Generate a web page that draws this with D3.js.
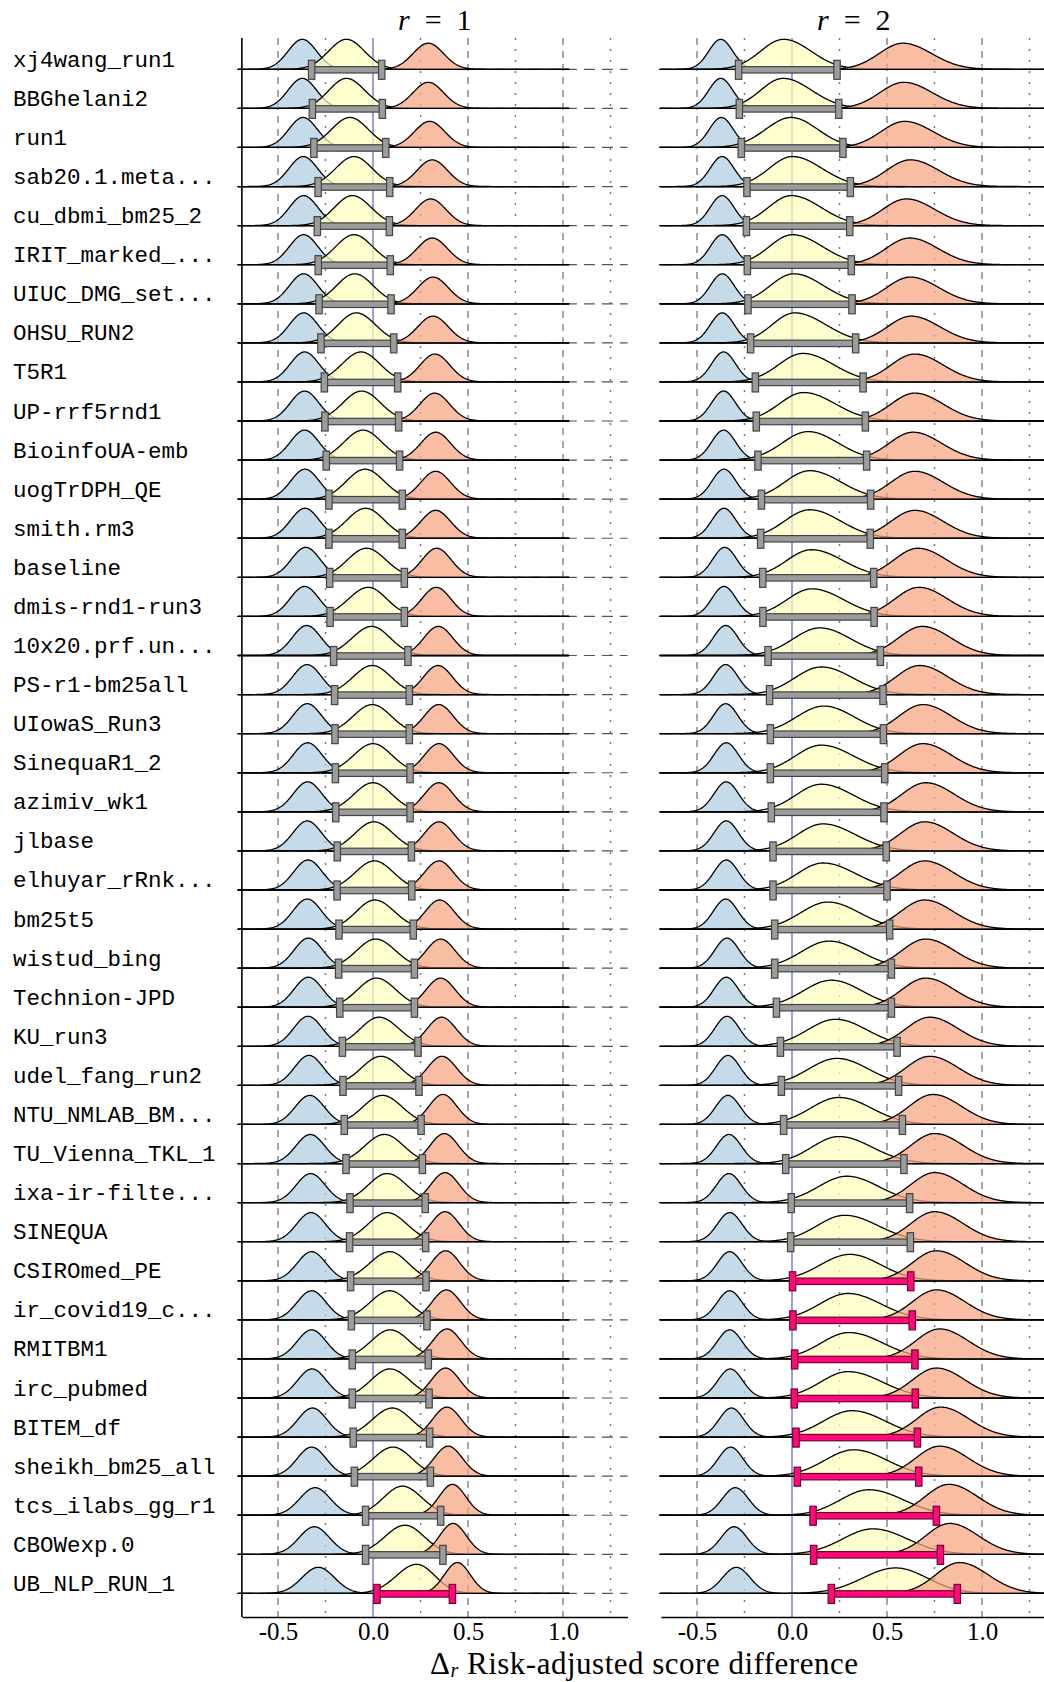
<!DOCTYPE html>
<html>
<head>
<meta charset="utf-8">
<script src="https://cdn.jsdelivr.net/npm/d3@7"></script>
<style>
  html, body { margin: 0; padding: 0; background: #fff; }
  svg { display: block; }
</style>
</head>
<body>
<script>
// ---- run names, top to bottom ----
const runs = [
  "xj4wang_run1", "BBGhelani2", "run1", "sab20.1.meta...", "cu_dbmi_bm25_2",
  "IRIT_marked_...", "UIUC_DMG_set...", "OHSU_RUN2", "T5R1", "UP-rrf5rnd1",
  "BioinfoUA-emb", "uogTrDPH_QE", "smith.rm3", "baseline", "dmis-rnd1-run3",
  "10x20.prf.un...", "PS-r1-bm25all", "UIowaS_Run3", "SinequaR1_2", "azimiv_wk1",
  "jlbase", "elhuyar_rRnk...", "bm25t5", "wistud_bing", "Technion-JPD",
  "KU_run3", "udel_fang_run2", "NTU_NMLAB_BM...", "TU_Vienna_TKL_1", "ixa-ir-filte...",
  "SINEQUA", "CSIROmed_PE", "ir_covid19_c...", "RMITBM1", "irc_pubmed",
  "BITEM_df", "sheikh_bm25_all", "tcs_ilabs_gg_r1", "CBOWexp.0", "UB_NLP_RUN_1"
];

// ---- r = 1 ----
const r1LowMode = [-0.372, -0.372, -0.368, -0.367, -0.365, -0.365, -0.365, -0.365, -0.360, -0.360,
  -0.360, -0.358, -0.358, -0.354, -0.360, -0.349, -0.347, -0.346, -0.344, -0.344,
  -0.346, -0.342, -0.346, -0.340, -0.340, -0.342, -0.337, -0.333, -0.330, -0.328,
  -0.326, -0.323, -0.323, -0.323, -0.321, -0.319, -0.323, -0.305, -0.309, -0.288];
const r1LowSd = [0.075, 0.075, 0.075, 0.075, 0.075, 0.075, 0.075, 0.075, 0.075, 0.075,
  0.075, 0.075, 0.075, 0.075, 0.075, 0.075, 0.075, 0.075, 0.075, 0.075,
  0.075, 0.075, 0.075, 0.075, 0.075, 0.075, 0.075, 0.076, 0.076, 0.076,
  0.076, 0.076, 0.076, 0.076, 0.076, 0.076, 0.076, 0.080, 0.080, 0.085];
const r1LowPeak = [1.00, 1.00, 1.00, 1.00, 1.00, 1.00, 1.00, 1.00, 1.00, 1.00,
  1.00, 1.00, 1.00, 1.00, 1.00, 1.00, 1.00, 1.00, 1.00, 1.00,
  1.00, 1.00, 1.00, 1.00, 1.00, 1.00, 1.00, 0.97, 0.97, 0.97,
  0.97, 0.97, 0.97, 0.97, 0.97, 0.97, 0.97, 0.92, 0.92, 0.87];

const r1DeltaMode = [-0.140, -0.140, -0.121, -0.100, -0.109, -0.100, -0.096, -0.088, -0.063, -0.060,
  -0.053, -0.042, -0.039, -0.035, -0.025, -0.007, -0.004, -0.004, 0.000, 0.000,
  0.004, 0.007, 0.009, 0.014, 0.018, 0.032, 0.042, 0.049, 0.060, 0.075,
  0.075, 0.088, 0.088, 0.091, 0.089, 0.102, 0.105, 0.154, 0.168, 0.230];
const r1DeltaLo = [-0.323, -0.319, -0.311, -0.289, -0.293, -0.288, -0.284, -0.274, -0.256, -0.253,
  -0.246, -0.232, -0.232, -0.228, -0.226, -0.207, -0.202, -0.200, -0.198, -0.196,
  -0.188, -0.189, -0.179, -0.181, -0.175, -0.161, -0.158, -0.151, -0.142, -0.121,
  -0.123, -0.118, -0.114, -0.109, -0.109, -0.104, -0.098, -0.039, -0.039, 0.021];
const r1DeltaHi = [0.046, 0.049, 0.067, 0.088, 0.086, 0.091, 0.095, 0.109, 0.130, 0.135,
  0.140, 0.154, 0.154, 0.165, 0.165, 0.184, 0.191, 0.191, 0.195, 0.195,
  0.202, 0.204, 0.212, 0.218, 0.218, 0.237, 0.242, 0.253, 0.260, 0.275,
  0.277, 0.279, 0.284, 0.291, 0.295, 0.298, 0.302, 0.356, 0.368, 0.418];
const r1DeltaPeak = [1.00, 1.00, 1.00, 1.00, 1.00, 1.00, 1.00, 1.00, 1.00, 1.00,
  1.00, 1.00, 1.00, 0.97, 0.97, 0.97, 0.97, 0.97, 0.97, 0.97,
  0.97, 0.97, 0.97, 0.97, 0.97, 0.97, 0.97, 0.97, 0.97, 0.97,
  0.97, 0.97, 0.97, 0.97, 0.97, 0.97, 0.97, 0.97, 0.97, 0.97];

const r1HighMode = [0.291, 0.291, 0.298, 0.312, 0.304, 0.312, 0.316, 0.316, 0.326, 0.325,
  0.330, 0.330, 0.330, 0.335, 0.333, 0.344, 0.342, 0.346, 0.347, 0.347,
  0.347, 0.347, 0.351, 0.356, 0.356, 0.361, 0.363, 0.368, 0.375, 0.379,
  0.379, 0.382, 0.386, 0.389, 0.382, 0.389, 0.396, 0.418, 0.421, 0.444];
const r1HighSd = [0.080, 0.080, 0.080, 0.080, 0.080, 0.080, 0.080, 0.080, 0.078, 0.078,
  0.078, 0.078, 0.078, 0.076, 0.076, 0.076, 0.076, 0.076, 0.076, 0.076,
  0.076, 0.076, 0.076, 0.076, 0.076, 0.076, 0.076, 0.074, 0.074, 0.074,
  0.074, 0.074, 0.074, 0.074, 0.074, 0.074, 0.074, 0.070, 0.070, 0.068];
const r1HighPeak = [0.87, 0.87, 0.87, 0.89, 0.89, 0.89, 0.89, 0.89, 0.93, 0.93,
  0.93, 0.93, 0.93, 0.97, 0.97, 0.97, 0.97, 0.97, 0.97, 0.97,
  0.97, 0.97, 0.97, 0.97, 0.97, 0.97, 0.97, 1.00, 1.00, 1.00,
  1.00, 1.00, 1.00, 1.00, 1.00, 1.00, 1.00, 1.03, 1.03, 1.03];

// ---- r = 2 ----
const r2LowMode = [-0.375, -0.375, -0.372, -0.368, -0.368, -0.367, -0.367, -0.367, -0.360, -0.360,
  -0.360, -0.358, -0.358, -0.354, -0.358, -0.349, -0.349, -0.349, -0.346, -0.346,
  -0.346, -0.346, -0.349, -0.342, -0.346, -0.342, -0.337, -0.337, -0.332, -0.332,
  -0.328, -0.328, -0.328, -0.328, -0.325, -0.319, -0.323, -0.298, -0.305, -0.293];
const r2LowSd = [0.063, 0.063, 0.063, 0.063, 0.063, 0.063, 0.063, 0.063, 0.063, 0.063,
  0.063, 0.063, 0.063, 0.063, 0.063, 0.064, 0.064, 0.064, 0.064, 0.064,
  0.064, 0.064, 0.064, 0.064, 0.064, 0.064, 0.064, 0.065, 0.065, 0.065,
  0.065, 0.065, 0.065, 0.065, 0.065, 0.065, 0.065, 0.068, 0.068, 0.072];
const r2LowPeak = [1.00, 1.00, 1.00, 1.00, 1.00, 1.00, 1.00, 1.00, 1.00, 1.00,
  1.00, 1.00, 1.00, 1.00, 1.00, 1.00, 1.00, 1.00, 1.00, 1.00,
  1.00, 1.00, 1.00, 1.00, 1.00, 1.00, 1.00, 0.97, 0.97, 0.97,
  0.97, 0.97, 0.97, 0.97, 0.97, 0.97, 0.97, 0.92, 0.92, 0.87];

const r2DeltaMode = [-0.044, -0.047, -0.004, 0.002, -0.004, 0.002, 0.009, 0.014, 0.058, 0.061,
  0.084, 0.093, 0.093, 0.102, 0.105, 0.146, 0.154, 0.168, 0.154, 0.154,
  0.163, 0.163, 0.189, 0.195, 0.207, 0.230, 0.237, 0.247, 0.247, 0.289,
  0.277, 0.304, 0.295, 0.300, 0.295, 0.316, 0.325, 0.405, 0.426, 0.546];
const r2DeltaLo = [-0.281, -0.277, -0.267, -0.237, -0.240, -0.235, -0.232, -0.218, -0.193, -0.188,
  -0.179, -0.161, -0.165, -0.154, -0.153, -0.126, -0.118, -0.114, -0.114, -0.109,
  -0.100, -0.100, -0.091, -0.091, -0.082, -0.061, -0.056, -0.044, -0.033, -0.004,
  -0.007, 0.003, 0.005, 0.014, 0.012, 0.021, 0.028, 0.111, 0.114, 0.207];
const r2DeltaHi = [0.237, 0.246, 0.268, 0.307, 0.304, 0.312, 0.316, 0.335, 0.374, 0.386,
  0.393, 0.414, 0.412, 0.430, 0.432, 0.465, 0.479, 0.481, 0.488, 0.484,
  0.496, 0.500, 0.514, 0.523, 0.523, 0.553, 0.561, 0.581, 0.589, 0.619,
  0.623, 0.625, 0.633, 0.647, 0.649, 0.660, 0.667, 0.760, 0.781, 0.870];
const r2DeltaPeak = [1.00, 1.00, 1.00, 1.00, 1.00, 1.00, 1.00, 1.00, 0.95, 0.95,
  0.95, 0.95, 0.95, 0.92, 0.92, 0.92, 0.92, 0.92, 0.92, 0.92,
  0.90, 0.90, 0.90, 0.90, 0.90, 0.90, 0.90, 0.90, 0.90, 0.88,
  0.88, 0.88, 0.88, 0.88, 0.88, 0.88, 0.88, 0.85, 0.85, 0.85];

const r2HighMode = [0.584, 0.588, 0.593, 0.623, 0.602, 0.619, 0.623, 0.628, 0.646, 0.646,
  0.637, 0.646, 0.646, 0.663, 0.668, 0.686, 0.672, 0.689, 0.689, 0.704,
  0.698, 0.698, 0.698, 0.704, 0.704, 0.725, 0.725, 0.742, 0.751, 0.751,
  0.751, 0.760, 0.760, 0.777, 0.760, 0.782, 0.777, 0.826, 0.830, 0.882];
const r2HighSdLeft = 0.125;
const r2HighSdRight = 0.150;
const r2HighPeak = [0.87, 0.87, 0.87, 0.89, 0.89, 0.89, 0.89, 0.89, 0.93, 0.93,
  0.93, 0.93, 0.93, 0.97, 0.97, 0.97, 0.97, 0.97, 0.97, 0.97,
  0.97, 0.97, 0.97, 0.97, 0.97, 0.97, 0.97, 1.00, 1.00, 1.00,
  1.00, 1.00, 1.00, 1.00, 1.00, 1.00, 1.00, 1.03, 1.03, 1.03];

const xTicks = [-0.5, 0.0, 0.5, 1.0];
const dashedGrid = [-0.5, 0.5, 1.0];
const dottedGrid = [-0.25, 0.25, 0.75, 1.25];

// ---- layout ----
const W = 1044, H = 1682;
const plotTop = 38, plotBottom = 1617;
const firstBase = 69.3, rowStep = 39.08;
const ridgeHeight = 30;           // pixel height of a relative density of 1
const xDomain = [-0.69, 1.34];

const colors = { low: "#aecde1", mid: "#fdfdbb", high: "#f5a47f" };

const svg = d3.select("body").append("svg")
  .attr("width", W).attr("height", H)
  .attr("viewBox", `0 0 ${W} ${H}`);

const yRow = d3.scalePoint().domain(runs).range([firstBase, firstBase + rowStep * (runs.length - 1)]);
const hScale = d3.scaleLinear().domain([0, 1]).range([0, ridgeHeight]);

// split-normal shape: separate spread on each side of the mode
function shape(x, m, sl, sr) {
  const s = x < m ? sl : sr;
  const z = (x - m) / s;
  return Math.exp(-0.5 * z * z);
}

const panels = [
  {
    title: "1", range: [241.9, 627.6], grid: [-0.71, 1.03], axisLine: true,
    low: r1LowMode.map((m, i) => ({ m, sl: r1LowSd[i], sr: r1LowSd[i], p: r1LowPeak[i] })),
    mid: r1DeltaMode.map((m, i) => ({ m, sl: (m - r1DeltaLo[i]) / 1.96, sr: (r1DeltaHi[i] - m) / 1.96, p: r1DeltaPeak[i] })),
    high: r1HighMode.map((m, i) => ({ m, sl: r1HighSd[i], sr: r1HighSd[i], p: r1HighPeak[i] })),
    lo: r1DeltaLo, hi: r1DeltaHi
  },
  {
    title: "2", range: [660.9, 1046.6], grid: [-0.695, 1.40], axisLine: false,
    low: r2LowMode.map((m, i) => ({ m, sl: r2LowSd[i], sr: r2LowSd[i], p: r2LowPeak[i] })),
    mid: r2DeltaMode.map((m, i) => ({ m, sl: (m - r2DeltaLo[i]) / 1.96, sr: (r2DeltaHi[i] - m) / 1.96, p: r2DeltaPeak[i] })),
    high: r2HighMode.map((m, i) => ({ m, sl: r2HighSdLeft, sr: r2HighSdRight, p: r2HighPeak[i] })),
    lo: r2DeltaLo, hi: r2DeltaHi
  }
];

// ---- row labels ----
svg.append("g").selectAll("text").data(runs).join("text")
  .attr("x", 13)
  .attr("y", d => yRow(d) - 2.5)
  .attr("font-family", "'Liberation Mono', 'DejaVu Sans Mono', monospace")
  .attr("font-size", 22.5)
  .attr("fill", "#000")
  .text(d => d);

panels.forEach(P => {
  const x = d3.scaleLinear().domain(xDomain).range(P.range);
  const g = svg.append("g");

  // vertical reference lines
  g.append("g").selectAll("line").data(dashedGrid).join("line")
    .attr("x1", d => x(d)).attr("x2", d => x(d))
    .attr("y1", plotTop).attr("y2", plotBottom)
    .attr("stroke", "#777").attr("stroke-width", 1.3)
    .attr("stroke-dasharray", "7,6");
  g.append("g").selectAll("line").data(dottedGrid).join("line")
    .attr("x1", d => x(d)).attr("x2", d => x(d))
    .attr("y1", plotTop).attr("y2", plotBottom)
    .attr("stroke", "#777").attr("stroke-width", 1.5)
    .attr("stroke-dasharray", "2,9");
  g.append("line")
    .attr("x1", x(0)).attr("x2", x(0))
    .attr("y1", plotTop).attr("y2", plotBottom)
    .attr("stroke", "#6a6ac8").attr("stroke-width", 1.3);

  // per-row baseline guides
  g.append("g").selectAll("line").data(runs).join("line")
    .attr("x1", P.range[0]).attr("x2", P.range[1])
    .attr("y1", d => yRow(d)).attr("y2", d => yRow(d))
    .attr("stroke", "#555").attr("stroke-width", 1.2)
    .attr("stroke-dasharray", "11,7");

  // ridges
  const xs = d3.range(P.grid[0], P.grid[1] + 1e-9, 0.004);
  const ridges = g.append("g");
  runs.forEach((run, i) => {
    const base = yRow(run);
    [["low", colors.low], ["mid", colors.mid], ["high", colors.high]].forEach(([key, col]) => {
      const d = P[key][i];
      const area = d3.area()
        .x(v => x(v))
        .y0(base)
        .y1(v => base - hScale(d.p * shape(v, d.m, d.sl, d.sr)))
        .curve(d3.curveLinear);
      ridges.append("path")
        .attr("d", area(xs))
        .attr("fill", col).attr("fill-opacity", 0.72)
        .attr("stroke", "#000").attr("stroke-width", 1.3)
        .attr("stroke-linejoin", "round");
    });
  });

  // interval bars
  const bars = g.append("g");
  runs.forEach((run, i) => {
    const base = yRow(run) + 0.5;
    const lo = P.lo[i], hi = P.hi[i];
    const sig = lo > 0;
    const fill = sig ? "#ff0a78" : "#9c9c9c";
    const stroke = sig ? "#6e0032" : "#444";
    bars.append("rect")
      .attr("x", x(lo)).attr("y", base - 3.2)
      .attr("width", x(hi) - x(lo)).attr("height", 6.4)
      .attr("fill", fill).attr("stroke", stroke).attr("stroke-width", 1.2);
    [lo, hi].forEach(v => {
      bars.append("rect")
        .attr("x", x(v) - 3.2).attr("y", base - 9.5)
        .attr("width", 6.4).attr("height", 19)
        .attr("fill", fill).attr("stroke", stroke).attr("stroke-width", 1.2);
    });
  });

  // left spine
  if (P.axisLine) {
    g.append("line")
      .attr("x1", P.range[0]).attr("x2", P.range[0])
      .attr("y1", plotTop).attr("y2", plotBottom)
      .attr("stroke", "#000").attr("stroke-width", 1.6);
  }

  // bottom axis
  const axis = d3.axisBottom(x)
    .tickValues(xTicks)
    .tickFormat(d => d3.format(".1f")(d).replace("\u2212", "-"))
    .tickSizeInner(0).tickSizeOuter(0).tickPadding(5);
  const ax = g.append("g").attr("transform", `translate(0,${plotBottom})`).call(axis);
  ax.select(".domain").attr("stroke", "#000").attr("stroke-width", 1.6);
  ax.selectAll("text")
    .attr("font-family", "'Liberation Serif', 'DejaVu Serif', serif")
    .attr("font-size", 25).attr("fill", "#000");

  // panel title
  const t = svg.append("text")
    .attr("x", (P.range[0] + P.range[1]) / 2).attr("y", 29.5)
    .attr("text-anchor", "middle")
    .attr("font-family", "'Liberation Serif', 'DejaVu Serif', serif")
    .attr("font-size", 30);
  t.append("tspan").attr("font-style", "italic").text("r");
  t.append("tspan").text("\u2002=\u2002" + P.title);
});

// shared x-axis title
const xt = svg.append("text")
  .attr("x", (241.9 + 1046.6) / 2).attr("y", 1674)
  .attr("text-anchor", "middle")
  .attr("font-family", "'Liberation Serif', 'DejaVu Serif', serif")
  .attr("font-size", 31)
  .attr("letter-spacing", 0.5);
xt.append("tspan").text("\u0394");
xt.append("tspan").attr("font-style", "italic").attr("font-size", 20).attr("dy", 3).text("r");
xt.append("tspan").attr("dy", -3).text(" Risk-adjusted score difference");
</script>
</body>
</html>
